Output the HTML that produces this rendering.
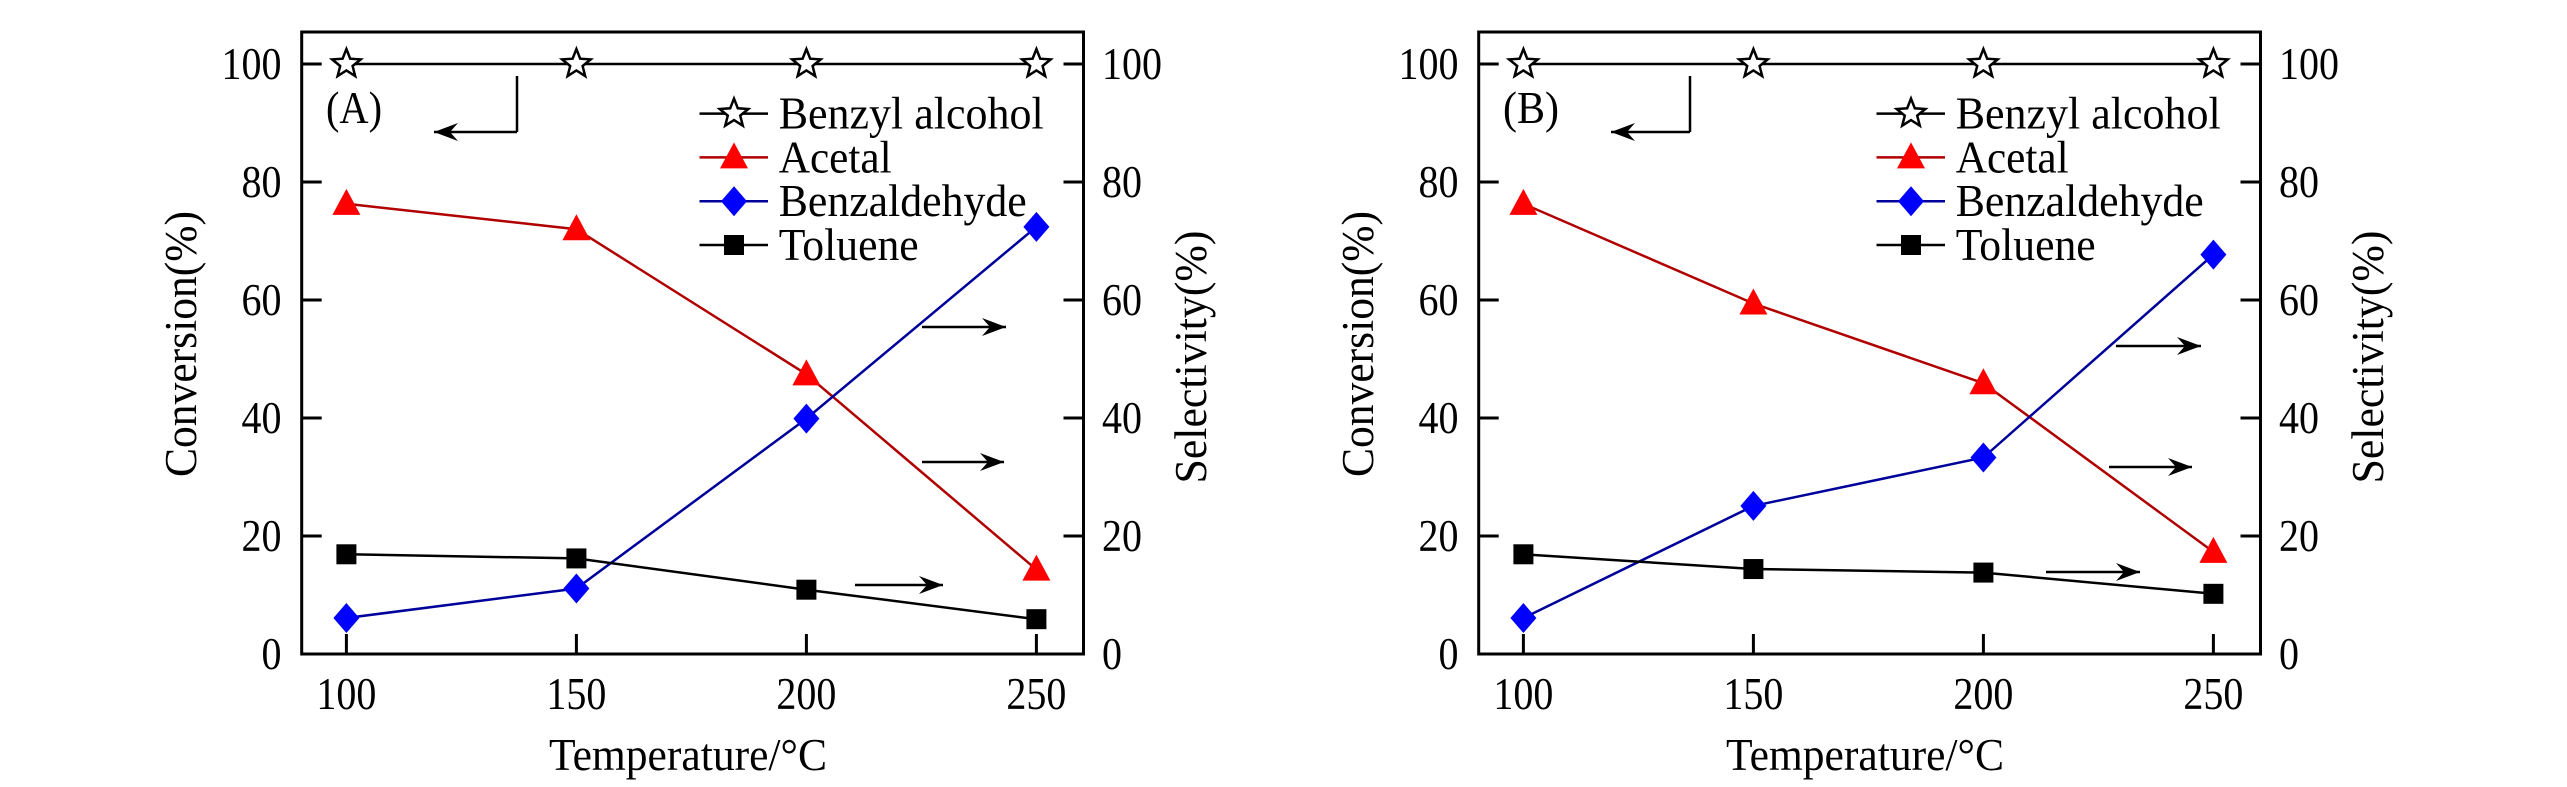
<!DOCTYPE html>
<html><head><meta charset="utf-8"><style>
html,body{margin:0;padding:0;background:#fff}
svg{display:block}
svg text{font-family:"Liberation Serif","DejaVu Serif",serif;fill:#000}
</style></head><body>
<svg id="chart" width="2567" height="787" viewBox="0 0 2567 787" xmlns="http://www.w3.org/2000/svg" font-family="Liberation Serif, serif">
<g id="pA"></g>
<g id="pB" transform="translate(1177,0)"></g>
</svg>
<script>
const temps = [100, 150, 200, 250];
const yTicks = [0, 20, 40, 60, 80, 100];
const xTickLabels = ["100", "150", "200", "250"];
const benzylA = [100, 100, 100, 100];
const acetalA = [76.3, 72.0, 47.4, 14.3];
const benzaldehydeA = [6.1, 11.1, 39.9, 72.4];
const tolueneA = [16.9, 16.2, 10.9, 5.9];
const benzylB = [100, 100, 100, 100];
const acetalB = [76.3, 59.4, 45.9, 17.3];
const benzaldehydeB = [6.1, 25.1, 33.3, 67.7];
const tolueneB = [16.9, 14.4, 13.8, 10.2];
const legendNames = ["Benzyl alcohol", "Acetal", "Benzaldehyde", "Toluene"];

const NS = "http://www.w3.org/2000/svg";
const L = 301.7, R = 1083.5, T = 32, B = 654;
function xs(t){ return 346.4 + (t - 100) * 4.6; }
function ys(v){ return 654 - 5.9 * v; }
function mk(tag, attrs, parent){
  const e = document.createElementNS(NS, tag);
  for (const k in attrs) e.setAttribute(k, attrs[k]);
  parent.appendChild(e);
  return e;
}
function starPts(cx, cy, ro, ri){
  let p = [];
  for (let i = 0; i < 10; i++){
    const a = -Math.PI/2 + i*Math.PI/5, r = i%2 ? ri : ro;
    p.push((cx + r*Math.cos(a)).toFixed(1) + "," + (cy + r*Math.sin(a)).toFixed(1));
  }
  return p.join(" ");
}
function marker(g, type, cx, cy){
  let m;
  if (type === "star") m = mk("polygon", {points: starPts(cx, cy, 15, 6.5), fill:"#fff", stroke:"#000", "stroke-width":2.5}, g);
  else if (type === "tri") m = mk("polygon", {points: `${cx},${cy-15} ${cx+14},${cy+11} ${cx-14},${cy+11}`, fill:"#ff0000"}, g);
  else if (type === "dia") m = mk("polygon", {points: `${cx},${cy-15} ${cx+13},${cy} ${cx},${cy+15} ${cx-13},${cy}`, fill:"#0000ff"}, g);
  else m = mk("rect", {x: cx-10, y: cy-10, width: 20, height: 20, fill:"#000"}, g);
  return m;
}
function arrow(g, x1, y1, x2, y2){
  const a = mk("line", {x1, y1, x2, y2, stroke:"#000", "stroke-width":2.5}, g);
  
  
  const dir = Math.sign(x2 - x1);
  const h = mk("polygon", {points: `${x2},${y2} ${x2-dir*24},${y2-9} ${x2-dir*16},${y2} ${x2-dir*24},${y2+9}`, fill:"#000"}, g);
  
  
}
function text(g, s, x, y, attrs){
  const t = mk("text", Object.assign({x, y, "font-size":45, "font-family":"Liberation Serif, serif"}, attrs || {}), g);
  t.textContent = s;
  return t;
}

function drawPanel(g, label, series, rightArrows){
  const box = mk("rect", {x:L, y:T, width:R-L, height:B-T, fill:"none", stroke:"#000", "stroke-width":3}, g);
  
  
  yTicks.forEach(v => {
    const y = ys(v);
    mk("line", {x1:L, y1:y, x2:L+20, y2:y, stroke:"#000", "stroke-width":3}, g);
    mk("line", {x1:R, y1:y, x2:R-20, y2:y, stroke:"#000", "stroke-width":3}, g);
    const s = String(v);
    const tl = text(g, s, 281.5, y + 15, {"text-anchor":"end", textLength: s.length*20, lengthAdjust:"spacingAndGlyphs"});
    
    
    const tr = text(g, s, 1102, y + 15, {textLength: s.length*20, lengthAdjust:"spacingAndGlyphs"});
    
    
  });
  temps.forEach((t, i) => {
    const x = xs(t);
    mk("line", {x1:x, y1:B, x2:x, y2:B-20, stroke:"#000", "stroke-width":3}, g);
    const tx = text(g, xTickLabels[i], x, 709, {"text-anchor":"middle", textLength: 60, lengthAdjust:"spacingAndGlyphs"});
    
    
  });
  const xt = text(g, "Temperature/°C", 688, 770, {"text-anchor":"middle", textLength:278, lengthAdjust:"spacingAndGlyphs"});
  
  
  const yl = text(g, "Conversion(%)", 0, 0, {"text-anchor":"middle", textLength:266, lengthAdjust:"spacingAndGlyphs", transform:"translate(196,344) rotate(-90)"});
  
  
  const yr = text(g, "Selectivity(%)", 0, 0, {"text-anchor":"middle", textLength:253, lengthAdjust:"spacingAndGlyphs", transform:"translate(1206,357) rotate(-90)"});
  
  
  const pl = text(g, label, 326, 123, {textLength:56, lengthAdjust:"spacingAndGlyphs"});
  
  

  series.forEach(s => {
    const sg = mk("g", {}, g);
    
    
    const pts = temps.map((t, i) => xs(t).toFixed(1) + "," + ys(s.values[i]).toFixed(1)).join(" ");
    const pl2 = mk("polyline", {points: pts, fill:"none", stroke:s.line, "stroke-width":2.5}, sg);
    
    
    temps.forEach((t, i) => {
      const m = marker(sg, s.marker, xs(t), ys(s.values[i]));
      
      
    });
  });

  const lg = mk("g", {}, g);
  
  
  const lens = [265, 113, 248, 140];
  series.forEach((s, i) => {
    const y = 113.6 + i*43.8;
    const eg = mk("g", {}, lg);
    
    
    mk("line", {x1:699.5, y1:y, x2:768, y2:y, stroke:s.line, "stroke-width":2.5}, eg);
    marker(eg, s.marker, 734, y);
    text(eg, legendNames[i], 778.7, y + 15, {textLength: lens[i], lengthAdjust:"spacingAndGlyphs"});
  });

  const vx = label === "(A)" ? 517 : 513;
  const lv = mk("line", {x1:vx, y1:76, x2:vx, y2:132, stroke:"#000", "stroke-width":2.5}, g);
  
  
  arrow(g, vx, 132, 434, 132);
  rightArrows.forEach(a => arrow(g, a[0], a[1], a[2], a[1]));
}

function seriesSet(b, a, bz, t){
  return [
    {name:"benzyl-alcohol-series", values:b, line:"#000", marker:"star"},
    {name:"acetal-series", values:a, line:"#b00000", marker:"tri"},
    {name:"benzaldehyde-series", values:bz, line:"#00009a", marker:"dia"},
    {name:"toluene-series", values:t, line:"#000", marker:"sq"}
  ];
}
drawPanel(document.getElementById("pA"), "(A)", seriesSet(benzylA, acetalA, benzaldehydeA, tolueneA),
  [[922, 327, 1006], [922, 462, 1004], [855, 585, 943]]);
drawPanel(document.getElementById("pB"), "(B)", seriesSet(benzylB, acetalB, benzaldehydeB, tolueneB),
  [[939, 346, 1024], [932, 467, 1015], [869, 572, 963]]);
</script>
</body></html>
